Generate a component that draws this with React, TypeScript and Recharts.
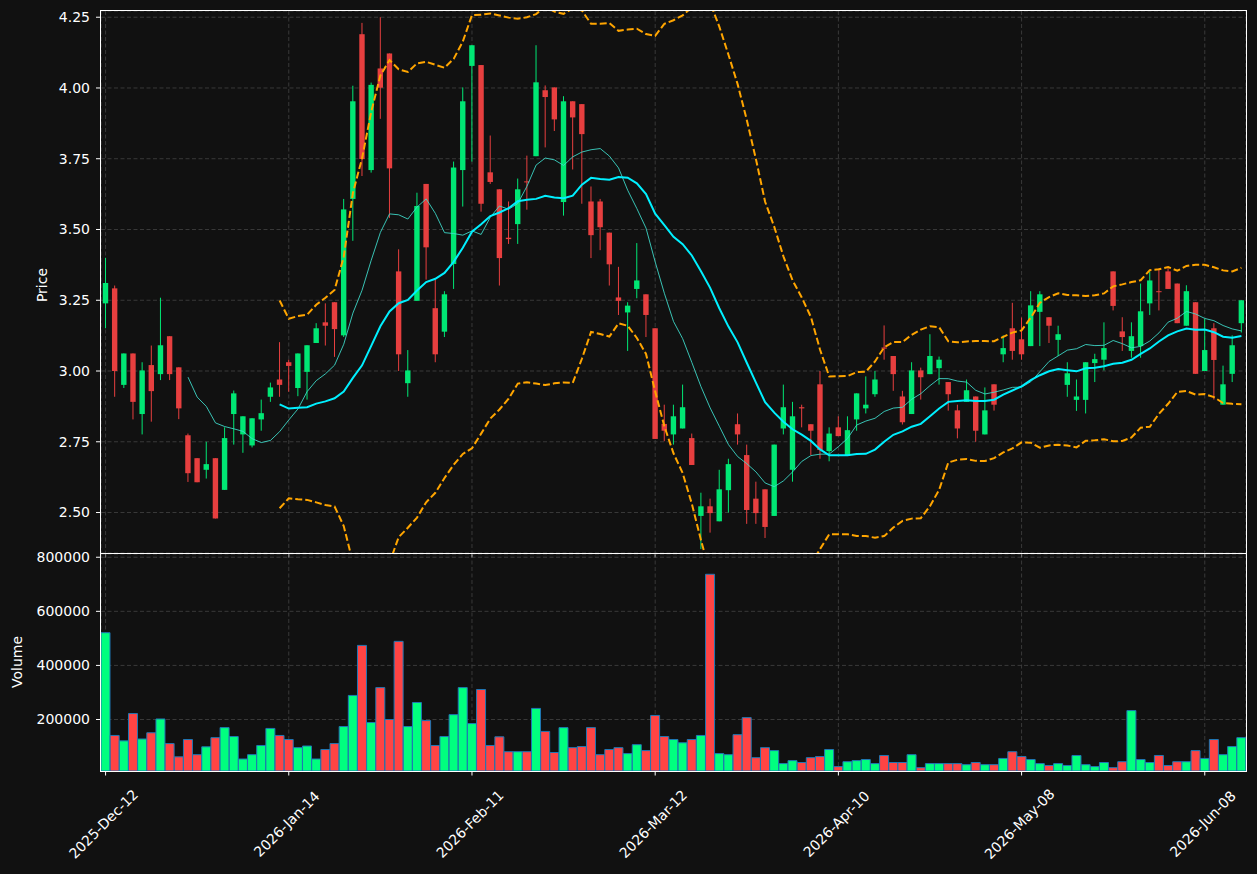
import React from 'react';
import { ComposedChart, Bar, Line, XAxis, YAxis, CartesianGrid, Cell } from 'recharts';

const FONT = 'DejaVu Sans';
const BG = '#111111';
const UP_CANDLE = '#00e774';
const DOWN_CANDLE = '#e73f3f';
const UP_VOL = '#00ff7f';
const DOWN_VOL = '#ff4444';

// x tick positions (bar index) and their labels
const tickIdx = [0, 20, 40, 60, 80, 100, 120];
const tickLabels = ['2025-Dec-12', '2026-Jan-14', '2026-Feb-11', '2026-Mar-12', '2026-Apr-10', '2026-May-08', '2026-Jun-08'];
const priceTicks = [2.5, 2.75, 3.0, 3.25, 3.5, 3.75, 4.0, 4.25];
const volumeTicks = [200000, 400000, 600000, 800000];

const opens = [
  3.239, 3.292, 2.951, 3.062, 2.848, 3.021, 2.989, 3.123, 3.013, 2.773,
  2.692, 2.651, 2.692, 2.580, 2.848, 2.776, 2.737, 2.829, 2.909, 2.970,
  3.031, 2.940, 2.997, 3.099, 3.172, 3.243, 3.126, 3.608, 4.190, 3.710,
  4.069, 4.122, 3.352, 2.957, 3.248, 3.661, 3.222, 3.139, 3.378, 3.710,
  4.078, 4.081, 3.702, 3.642, 3.471, 3.519, 3.670, 3.759, 3.992, 4.002,
  3.597, 3.953, 3.943, 3.599, 3.599, 3.489, 3.260, 3.207, 3.290, 3.271,
  3.151, 2.813, 2.776, 2.797, 2.763, 2.488, 2.522, 2.469, 2.579, 2.812,
  2.703, 2.549, 2.582, 2.488, 2.797, 2.651, 2.872, 2.812, 2.953, 2.717,
  2.801, 2.703, 2.829, 2.868, 2.918, 3.083, 3.053, 2.910, 2.848, 3.002,
  2.989, 3.010, 2.961, 2.861, 2.891, 2.910, 2.776, 2.953, 3.059, 3.151,
  3.112, 3.088, 3.209, 3.190, 3.110, 2.951, 2.898, 2.898, 3.028, 3.040,
  3.352, 3.140, 3.071, 3.088, 3.239, 3.282, 3.352, 3.309, 3.160, 3.243,
  3.000, 3.151, 2.881, 2.990, 3.169,
];

const highs = [
  3.400, 3.302, 3.062, 3.062, 3.031, 3.090, 3.259, 3.123, 3.013, 2.779,
  2.692, 2.750, 2.692, 2.801, 2.931, 2.840, 2.833, 2.899, 2.959, 3.102,
  3.040, 3.062, 3.091, 3.169, 3.239, 3.243, 3.608, 4.008, 4.230, 4.019,
  4.250, 4.122, 3.430, 3.074, 3.630, 3.661, 3.323, 3.282, 3.740, 4.002,
  4.151, 4.081, 3.832, 3.642, 3.599, 3.680, 3.761, 4.151, 4.009, 4.002,
  3.971, 3.953, 3.943, 3.652, 3.608, 3.489, 3.368, 3.243, 3.452, 3.271,
  3.151, 2.881, 2.881, 2.952, 2.779, 2.570, 2.549, 2.651, 2.690, 2.850,
  2.740, 2.609, 2.582, 2.740, 2.952, 2.891, 2.881, 2.812, 3.000, 2.801,
  2.840, 2.840, 2.921, 2.981, 3.000, 3.161, 3.053, 2.930, 3.031, 3.012,
  3.130, 3.051, 2.961, 2.881, 2.970, 2.910, 2.942, 2.953, 3.126, 3.241,
  3.189, 3.282, 3.282, 3.190, 3.160, 3.031, 2.970, 3.031, 3.061, 3.172,
  3.352, 3.190, 3.172, 3.309, 3.351, 3.363, 3.363, 3.309, 3.303, 3.243,
  3.184, 3.169, 3.019, 3.126, 3.250,
];

const lows = [
  3.151, 2.909, 2.940, 2.829, 2.776, 2.821, 2.968, 2.968, 2.830, 2.608,
  2.607, 2.620, 2.479, 2.580, 2.740, 2.711, 2.730, 2.789, 2.891, 2.909,
  2.927, 2.911, 2.899, 3.099, 3.090, 3.050, 3.120, 3.460, 3.689, 3.701,
  3.891, 3.541, 3.000, 2.909, 3.248, 3.323, 3.031, 3.120, 3.290, 3.581,
  3.740, 3.563, 3.661, 3.302, 3.449, 3.449, 3.570, 3.759, 3.790, 3.848,
  3.549, 3.712, 3.591, 3.399, 3.427, 3.302, 3.198, 3.071, 3.257, 3.120,
  2.760, 2.752, 2.740, 2.797, 2.668, 2.371, 2.429, 2.469, 2.500, 2.740,
  2.460, 2.460, 2.410, 2.488, 2.776, 2.609, 2.801, 2.703, 2.690, 2.681,
  2.770, 2.703, 2.789, 2.850, 2.909, 3.040, 2.930, 2.811, 2.848, 2.899,
  2.989, 2.952, 2.860, 2.762, 2.891, 2.750, 2.776, 2.860, 3.031, 3.040,
  3.040, 3.088, 3.088, 3.099, 3.053, 2.909, 2.859, 2.850, 2.961, 3.002,
  3.214, 3.071, 3.047, 3.047, 3.198, 3.214, 3.290, 3.169, 3.160, 2.990,
  3.000, 2.899, 2.881, 2.961, 3.136,
];

const closes = [
  3.311, 3.000, 3.062, 2.891, 3.002, 2.929, 3.091, 2.989, 2.868, 2.639,
  2.607, 2.671, 2.479, 2.763, 2.921, 2.840, 2.833, 2.851, 2.942, 2.951,
  3.018, 3.062, 3.091, 3.151, 3.160, 3.148, 3.571, 3.953, 3.749, 4.011,
  4.001, 3.716, 3.059, 3.002, 3.583, 3.437, 3.059, 3.271, 3.719, 3.953,
  4.151, 3.591, 3.668, 3.399, 3.466, 3.642, 3.667, 4.020, 3.968, 3.889,
  3.953, 3.896, 3.837, 3.480, 3.508, 3.377, 3.248, 3.231, 3.320, 3.198,
  2.760, 2.789, 2.840, 2.872, 2.668, 2.522, 2.498, 2.582, 2.671, 2.776,
  2.509, 2.498, 2.449, 2.740, 2.872, 2.840, 2.868, 2.789, 2.721, 2.779,
  2.770, 2.791, 2.921, 2.881, 2.970, 3.079, 2.989, 2.819, 3.002, 2.978,
  3.053, 3.040, 2.918, 2.797, 2.932, 2.789, 2.861, 2.881, 3.081, 3.071,
  3.059, 3.232, 3.271, 3.160, 3.130, 2.992, 2.910, 3.031, 3.042, 3.081,
  3.230, 3.120, 3.123, 3.211, 3.320, 3.279, 3.290, 3.169, 3.282, 2.990,
  3.074, 3.039, 2.953, 3.091, 3.250,
];

const volumes = [
  521000, 141000, 121000, 222000, 128000, 151000, 202000, 111000, 62000, 126000,
  70000, 99000, 133000, 170000, 137000, 54000, 70000, 104000, 167000, 141000,
  126000, 96000, 102000, 54000, 89000, 111000, 174000, 289000, 474000, 189000,
  318000, 200000, 489000, 174000, 263000, 196000, 104000, 137000, 218000, 318000,
  185000, 311000, 104000, 136000, 81000, 81000, 81000, 241000, 156000, 78000,
  170000, 96000, 100000, 170000, 70000, 89000, 96000, 74000, 107000, 85000,
  215000, 137000, 126000, 114000, 126000, 141000, 737000, 74000, 70000, 144000,
  207000, 59000, 96000, 85000, 37000, 48000, 41000, 59000, 63000, 89000,
  26000, 44000, 48000, 52000, 37000, 67000, 41000, 41000, 70000, 22000,
  37000, 37000, 37000, 37000, 33000, 41000, 33000, 33000, 56000, 81000,
  63000, 52000, 37000, 30000, 37000, 30000, 67000, 33000, 26000, 41000,
  22000, 44000, 233000, 52000, 41000, 67000, 30000, 44000, 44000, 85000,
  56000, 126000, 70000, 100000, 133000,
];

// indicators derived from the closes (moving averages and Bollinger bands)
const sma = (arr: number[], n: number, i: number) => {
  if (i < n - 1) return null;
  let s = 0;
  for (let k = i - n + 1; k <= i; k++) s += arr[k];
  return s / n;
};
const stdev = (arr: number[], n: number, i: number) => {
  const m = sma(arr, n, i);
  if (m == null) return null;
  let s = 0;
  for (let k = i - n + 1; k <= i; k++) s += (arr[k] - m) * (arr[k] - m);
  return Math.sqrt(s / n);
};

const rows = closes.map((c, i) => {
  const m20 = sma(closes, 20, i);
  const sd = stdev(closes, 20, i);
  return {
    i,
    open: opens[i],
    high: highs[i],
    low: lows[i],
    close: c,
    volume: volumes[i],
    up: c >= opens[i],
    ma10: sma(closes, 10, i),
    ma20: m20,
    bbUp: m20 != null && sd != null ? m20 + 2 * sd : null,
    bbLo: m20 != null && sd != null ? m20 - 2 * sd : null,
  };
});

const Candle = (props: any) => {
  const { x, y, width, height, payload } = props;
  if (x == null || y == null || !payload) return null;
  const top = Math.min(y, y + height);
  const h = Math.abs(height);
  const { open, close, high, low } = payload;
  const toY = (v: number) => (high === low ? top : top + ((high - v) / (high - low)) * h);
  const cx = x + width / 2;
  const bw = width * 0.6;
  const yO = toY(open);
  const yC = toY(close);
  const bt = Math.min(yO, yC);
  const bh = Math.max(Math.abs(yO - yC), 1);
  const color = close >= open ? UP_CANDLE : DOWN_CANDLE;
  return (
    <g>
      <line x1={cx} x2={cx} y1={top} y2={top + h} stroke={color} strokeWidth={1} />
      <rect x={cx - bw / 2} y={bt} width={bw} height={bh} fill={color} />
    </g>
  );
};

const PriceTick = (props: any) => {
  const { x, y } = props;
  return <line x1={x} x2={x} y1={y} y2={y + 4.5} stroke="#ffffff" strokeWidth={1} />;
};

const VolTick = (props: any) => {
  const { x, y, payload } = props;
  const k = tickIdx.indexOf(payload.value);
  const label = k >= 0 ? tickLabels[k] : '';
  const tx = x - 2;
  const ty = y + 53;
  return (
    <g>
      <line x1={x} x2={x} y1={y} y2={y + 4.5} stroke="#ffffff" strokeWidth={1} />
      <text x={tx} y={ty} transform={`rotate(-45 ${tx} ${ty})`} textAnchor="middle" dy="0.35em" fill="#ffffff" fontSize={14} fontFamily={FONT}>
        {label}
      </text>
    </g>
  );
};

const yTickStyle = { fill: '#ffffff', fontSize: 14, fontFamily: FONT };

export default function App() {
  return (
    <div style={{ position: 'absolute', left: 0, top: 0, width: 1257, height: 874, background: BG, overflow: 'hidden', fontFamily: FONT }}>
      <div style={{ position: 'absolute', left: 0, top: 0 }}>
        <ComposedChart width={1257} height={560} data={rows} margin={{ top: 11, right: 11, bottom: 0, left: 0 }} barCategoryGap={0} barGap={0}>
          <CartesianGrid xAxisId="t" stroke="#444444" strokeDasharray="4 2.5" strokeWidth={0.8} />
          <XAxis dataKey="i" type="category" hide height={0} />
          <XAxis xAxisId="t" dataKey="i" type="number" domain={[-0.5, 124.5]} allowDataOverflow ticks={tickIdx} interval={0} height={7} axisLine={false} tickLine={false} tickSize={0} tickMargin={0} tick={PriceTick} />
          <YAxis type="number" domain={[2.357, 4.272]} allowDataOverflow ticks={priceTicks} interval={0} width={101} axisLine={false} tickLine={{ stroke: '#ffffff' }} tickSize={5} tickMargin={6} tick={yTickStyle} tickFormatter={(v: number) => v.toFixed(2)} />
          <Bar dataKey={(d: any) => [d.low, d.high]} shape={(p: any) => <Candle {...p} />} isAnimationActive={false} />
          <Line dataKey="ma10" type="linear" stroke="#40e0d0" strokeOpacity={0.85} strokeWidth={1} dot={false} isAnimationActive={false} />
          <Line dataKey="ma20" type="linear" stroke="#00f0ff" strokeWidth={2} dot={false} isAnimationActive={false} />
          <Line dataKey="bbUp" type="linear" stroke="#ffa500" strokeWidth={2} strokeDasharray="7 3" dot={false} isAnimationActive={false} />
          <Line dataKey="bbLo" type="linear" stroke="#ffa500" strokeWidth={2} strokeDasharray="7 3" dot={false} isAnimationActive={false} />
        </ComposedChart>
      </div>
      <div style={{ position: 'absolute', left: 0, top: 0 }}>
        <ComposedChart width={1257} height={874} data={rows} margin={{ top: 554, right: 11, bottom: 0, left: 0 }} barCategoryGap={0} barGap={0}>
          <CartesianGrid xAxisId="t" stroke="#444444" strokeDasharray="4 2.5" strokeWidth={0.8} />
          <XAxis dataKey="i" type="category" hide height={0} />
          <XAxis xAxisId="t" dataKey="i" type="number" domain={[-0.5, 124.5]} allowDataOverflow ticks={tickIdx} interval={0} height={103} axisLine={false} tickLine={false} tickSize={0} tickMargin={0} tick={VolTick} />
          <YAxis type="number" domain={[9600, 812000]} allowDataOverflow ticks={volumeTicks} interval={0} width={101} axisLine={false} tickLine={{ stroke: '#ffffff' }} tickSize={5} tickMargin={6} tick={yTickStyle} tickFormatter={(v: number) => String(v)} />
          <Bar dataKey="volume" stroke="#1f77b4" strokeWidth={1} isAnimationActive={false}>
            {rows.map((r) => (
              <Cell key={r.i} fill={r.up ? UP_VOL : DOWN_VOL} />
            ))}
          </Bar>
        </ComposedChart>
      </div>
      <div style={{ position: 'absolute', left: 100, top: 10, width: 1147, height: 544, boxSizing: 'border-box', border: '1px solid #ffffff', pointerEvents: 'none' }} />
      <div style={{ position: 'absolute', left: 100, top: 553, width: 1147, height: 219, boxSizing: 'border-box', border: '1px solid #ffffff', pointerEvents: 'none' }} />
      <div style={{ position: 'absolute', left: 42, top: 285, transform: 'translate(-50%, -50%) rotate(-90deg)', color: '#ffffff', fontSize: 14, fontFamily: FONT, whiteSpace: 'nowrap', lineHeight: 1 }}>Price</div>
      <div style={{ position: 'absolute', left: 17, top: 662, transform: 'translate(-50%, -50%) rotate(-90deg)', color: '#ffffff', fontSize: 14, fontFamily: FONT, whiteSpace: 'nowrap', lineHeight: 1 }}>Volume</div>
    </div>
  );
}
